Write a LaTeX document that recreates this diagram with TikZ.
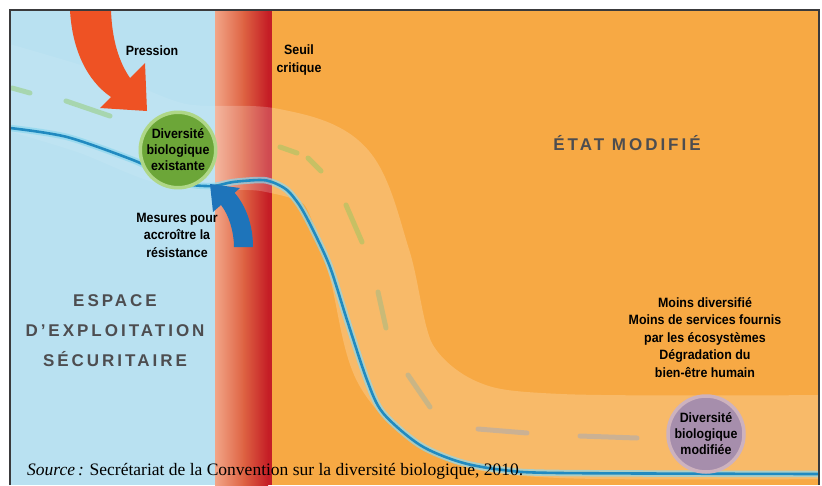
\documentclass[tikz,border=0pt]{standalone}
\usepackage{fontspec}
\setmainfont{Liberation Serif}
\newfontfamily\condb[FakeStretch=0.92]{Liberation Sans}
\newfontfamily\spacedf[LetterSpace=17.6]{Liberation Sans}
\definecolor{skyb}{RGB}{185,225,241}
\definecolor{orng}{RGB}{247,169,68}
\definecolor{salmon}{RGB}{242,165,135}
\definecolor{midred}{RGB}{222,98,66}
\definecolor{deepred}{RGB}{197,30,38}
\definecolor{pressred}{RGB}{238,82,36}
\definecolor{mesblue}{RGB}{30,116,186}
\definecolor{linecol}{RGB}{32,138,192}
\definecolor{glowcol}{RGB}{140,215,238}
\definecolor{circgreen}{RGB}{108,166,56}
\definecolor{circgreenrim}{RGB}{175,215,135}
\definecolor{circpurp}{RGB}{166,142,172}
\definecolor{circpurprim}{RGB}{205,178,190}
\definecolor{labgray}{RGB}{77,77,80}
\definecolor{dashgreen}{RGB}{140,200,95}
\definecolor{dashgray}{RGB}{150,168,200}
\definecolor{framecol}{RGB}{58,58,60}
\begin{document}
\begin{tikzpicture}[x=1pt,y=-1pt,
  lab/.style={inner sep=0pt, align=center, text=black, font=\condb\bfseries\fontsize{13.5}{17.5}\selectfont},
  big/.style={inner sep=0pt, align=center, text=labgray, font=\spacedf\bfseries\fontsize{17}{30}\selectfont},
  biocirc/.style={circle, inner sep=0pt, align=center, line width=3.5pt, font=\condb\bfseries\fontsize{13.5}{16}\selectfont},
  dashmark/.style={line width=5pt, line cap=round, opacity=0.45},
  bandstyle/.style={white, line width=84pt, line join=round}]
\useasboundingbox (0,0) rectangle (822,485);
\fill[white] (0,0) rectangle (822,485);
% regions
\fill[skyb] (10,10) rectangle (216,485);
\fill[orng] (271,10) rectangle (819,485);
\shade[left color=salmon,right color=midred] (215,10) rectangle (244,485);
\shade[left color=midred,right color=deepred] (243.5,10) rectangle (268,485);
\fill[deepred] (267.5,10) rectangle (272,485);
% light band
\begin{scope}
\clip (10,10) rectangle (215,485);
\draw[bandstyle, opacity=0.08] plot[smooth, tension=0.55] coordinates {(0,85) (90,112) (177,145) (270,150) (336,177) (369,262) (396,365) (460,420) (560,436) (830,437)};
\end{scope}
\begin{scope}
\clip (215,10) rectangle (819,485);
\draw[bandstyle, opacity=0.2] plot[smooth, tension=0.55] coordinates {(0,85) (90,112) (177,145) (270,150) (336,177) (369,262) (396,365) (460,420) (560,436) (830,437)};
\end{scope}
% dashes along path
\draw[dashmark, dashgreen] (12,88) -- (30,93);
\draw[dashmark, dashgreen] (66,101) -- (110,116);
\draw[dashmark, dashgreen] (280,147) -- (297,153);
\draw[dashmark, dashgreen] (308,158) -- (321,171);
\draw[dashmark, dashgreen] (346,205) -- (362,242);
\draw[dashmark, dashgreen!60!dashgray] (378,292) -- (386,328);
\draw[dashmark, dashgreen!30!dashgray] (408,375) -- (430,407);
\draw[dashmark, dashgray] (478,429) -- (527,433);
\draw[dashmark, dashgray] (580,436) -- (637,438);
% blue curve
\draw[glowcol, line width=6.5pt, opacity=0.7] plot[smooth, tension=0.5] coordinates {(10,128) (67,137) (133,160) (160,173) (187,184) (213,186) (233,182) (260,180) (272,182) (287,190) (300,206) (313,230) (330,267) (347,320) (367,380) (383,413) (420,445) (460,462) (503,470) (560,473) (819,474)};
\draw[linecol, line width=2.6pt] plot[smooth, tension=0.5] coordinates {(10,128) (67,137) (133,160) (160,173) (187,184) (213,186) (233,182) (260,180) (272,182) (287,190) (300,206) (313,230) (330,267) (347,320) (367,380) (383,413) (420,445) (460,462) (503,470) (560,473) (819,474)};
% circles
\node[biocirc, minimum size=72pt, fill=circgreen, draw=circgreenrim] (exist) at (178,150) {Diversité\\biologique\\existante};
\node[biocirc, minimum size=76pt, fill=circpurp, draw=circpurprim] (modif) at (706,434) {Diversité\\biologique\\modifiée};
% arrows
\fill[pressred] (70,10) .. controls (72,48) and (86,80) .. (111,97) -- (100,108) -- (147,111) -- (145,63) -- (130,78) .. controls (119,62) and (112,40) .. (111,10) -- cycle;
\fill[mesblue] (234,247) .. controls (234,232) and (229,215) .. (221,205) -- (213,212) -- (210,184) -- (240,188) -- (234.6,192.8) .. controls (246,206) and (253,225) .. (253,247) -- cycle;
% labels
\node[lab, anchor=base] (pression) at (152,55) {Pression};
\node[lab, anchor=base] (seuil) at (299,72) {Seuil\\critique};
\node[lab, anchor=base] (mesures) at (177,257) {Mesures pour\\accroître la\\résistance};
\node[lab, anchor=base] (moins) at (705,377) {Moins diversifié\\Moins de services fournis\\par les écosystèmes\\Dégradation du\\bien-être humain};
\node[big, anchor=base] (espace) at (115,366) {ESPACE\\D’EXPLOITATION\\SÉCURITAIRE};
\node[big, anchor=base] (etat) at (627,150) {ÉTAT MODIFIÉ};
\node[inner sep=0pt, anchor=base west, font=\fontsize{17.5}{20}\selectfont] (source) at (27,475) {\textit{Source\,:} Secrétariat de la Convention sur la diversité biologique, 2010.};
% frame
\draw[framecol, line width=1.5pt] (10,485) -- (10,10) -- (819,10) -- (819,485);
\end{tikzpicture}
\end{document}
